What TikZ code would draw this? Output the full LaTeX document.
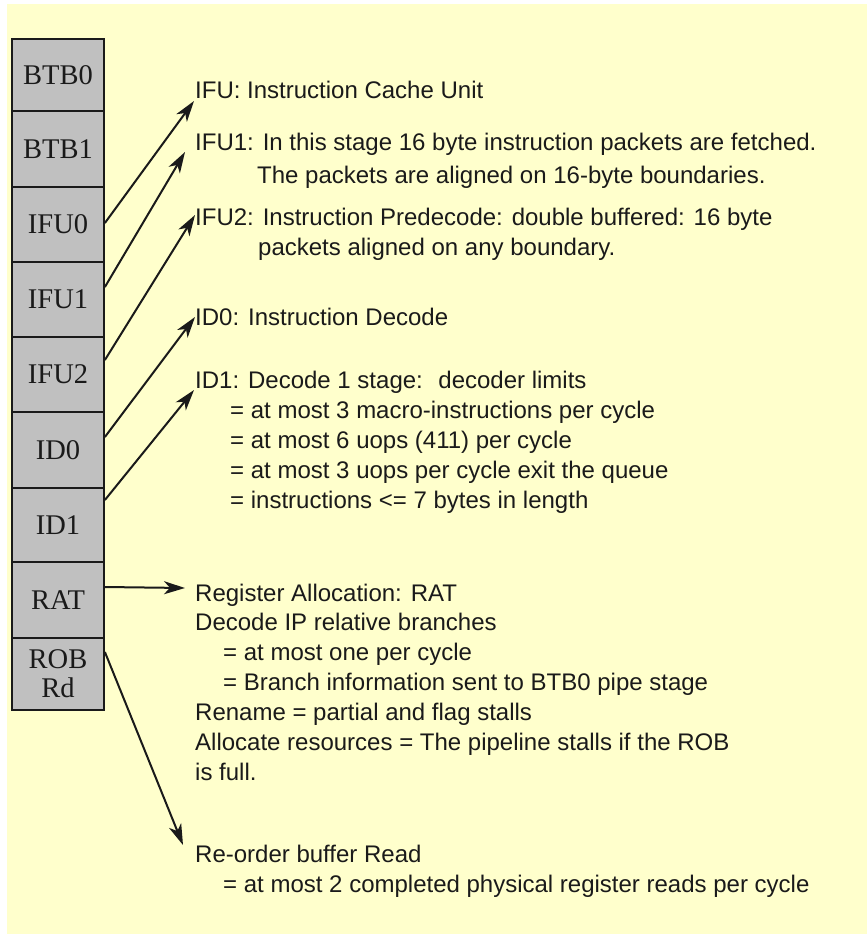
\documentclass[tikz,border=0pt]{standalone}
\usepackage{fontspec}
\setmainfont{Liberation Serif}
\newfontfamily\descfont{Liberation Sans}
\usetikzlibrary{arrows.meta}
\definecolor{bg}{HTML}{FFFFCC}
\definecolor{boxgray}{HTML}{C0C0C0}
\definecolor{ink}{HTML}{1A1A1A}
\begin{document}
\begin{tikzpicture}[x=1pt,y=-1pt,
 stagebox/.style={draw=ink, line width=1.8pt, fill=boxgray, minimum width=92pt, inner sep=0pt, font=\fontsize{28.5}{33}\selectfont, text=ink, align=center},
 desc/.style={anchor=base west, inner sep=0pt, font=\descfont\fontsize{24}{30}\selectfont, text=ink},
 arr/.style={line width=2pt, draw=ink, -{Stealth[length=21pt,width=13pt,inset=6pt]}}
]
\useasboundingbox (0,0) rectangle (867,934);
\fill[bg] (7,4) rectangle (867,934);

% pipeline stages
\node[stagebox, minimum height=72pt] (btb0) at (58,75) {BTB0};
\node[stagebox, minimum height=76pt] (btb1) at (58,149) {BTB1};
\node[stagebox, minimum height=75pt] (ifu0) at (58,224.5) {IFU0};
\node[stagebox, minimum height=75pt] (ifu1) at (58,299.5) {IFU1};
\node[stagebox, minimum height=75pt] (ifu2) at (58,374.5) {IFU2};
\node[stagebox, minimum height=76pt] (id0) at (58,450) {ID0};
\node[stagebox, minimum height=74pt] (id1) at (58,525) {ID1};
\node[stagebox, minimum height=76pt] (rat) at (58,600) {RAT};
\node[stagebox, minimum height=72pt] (rob) at (58,674) {ROB\\[-4pt]Rd};

% descriptions
\node[desc] (t1) at (195,98) {IFU: Instruction Cache Unit};
\node[desc] (t2a) at (195,150) {IFU1: In this stage 16 byte instruction packets are fetched.};
\node[desc] (t2b) at (257,183) {The packets are aligned on 16-byte boundaries.};
\node[desc] (t3a) at (195,225) {IFU2: Instruction Predecode: double buffered: 16 byte};
\node[desc] (t3b) at (258,255) {packets aligned on any boundary.};
\node[desc] (t4) at (195,325) {ID0: Instruction Decode};
\node[desc] (t5a) at (195,388) {ID1: Decode 1 stage:~ decoder limits};
\node[desc] (t5b) at (230,418) {= at most 3 macro-instructions per cycle};
\node[desc] (t5c) at (230,448) {= at most 6 uops (411) per cycle};
\node[desc] (t5d) at (230,478) {= at most 3 uops per cycle exit the queue};
\node[desc] (t5e) at (230,508) {= instructions <= 7 bytes in length};

\node[desc] (r1) at (195,601) {Register Allocation: RAT};
\node[desc] (r2) at (195,630) {Decode IP relative branches};
\node[desc] (r3) at (223,660) {= at most one per cycle};
\node[desc] (r4) at (223,690) {= Branch information sent to BTB0 pipe stage};
\node[desc] (r5) at (195,720) {Rename = partial and flag stalls};
\node[desc] (r6) at (195,750) {Allocate resources = The pipeline stalls if the ROB};
\node[desc] (r7) at (195,780) {is full.};
\node[desc] (o1) at (195,862) {Re-order buffer Read};
\node[desc] (o2) at (223,892) {= at most 2 completed physical register reads per cycle};

% connectors
\draw[arr] ([shift={(0,-1.5)}]ifu0.east) -- ([shift={(-1,3)}]t1.base west);
\draw[arr] ([shift={(0,-12.5)}]ifu1.east) -- ([shift={(-10,2)}]t2a.base west);
\draw[arr] ([shift={(0,-14.5)}]ifu2.east) -- ([shift={(0,-10)}]t3a.base west);
\draw[arr] ([shift={(0,-13)}]id0.east) -- ([shift={(0,-8)}]t4.base west);
\draw[arr] ([shift={(0,-25)}]id1.east) -- ([shift={(-1,2)}]t5a.base west);
\draw[arr] ([shift={(0,-13)}]rat.east) -- ([shift={(-10,-13)}]r1.base west);
\draw[arr] ([shift={(0,-22)}]rob.east) -- ([shift={(-12,-17)}]o1.base west);
\end{tikzpicture}
\end{document}
